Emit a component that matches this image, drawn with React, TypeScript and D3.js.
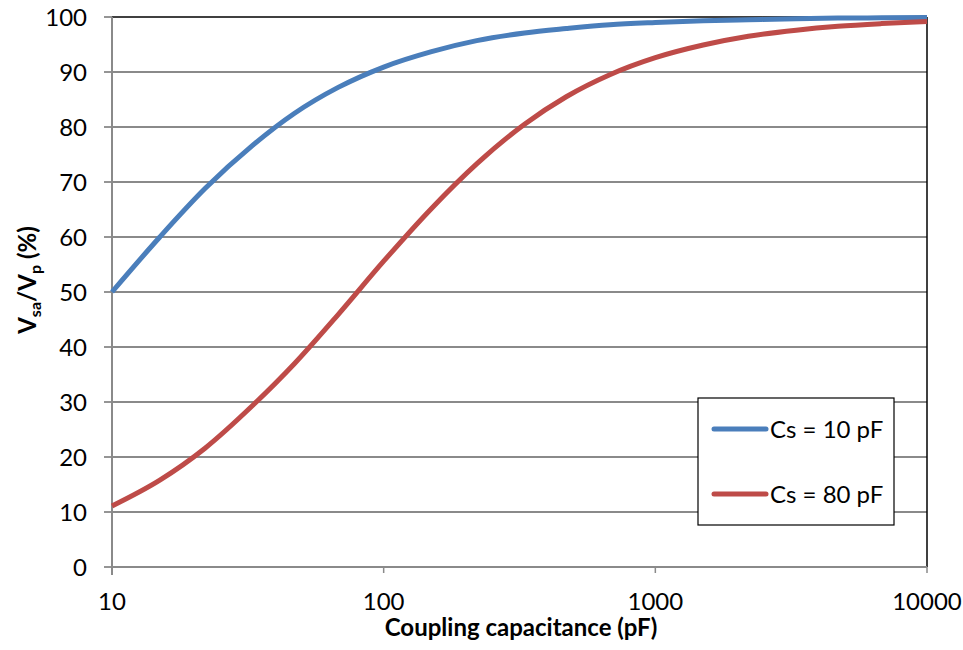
import React from "react";
import * as d3 from "d3";

const capacitance = [10, 15, 22, 33, 47, 68, 100, 150, 220, 330, 470, 680, 1000, 1500, 2200, 3300, 4700, 6800, 10000];
const cs10 = [50, 60, 68.8, 76.7, 82.5, 87.2, 90.9, 93.7, 95.7, 97.1, 97.9, 98.6, 99.0, 99.3, 99.5, 99.7, 99.8, 99.85, 99.9];
const cs80 = [11.1, 15.8, 21.6, 29.4, 37.0, 45.9, 55.6, 65.2, 73.3, 80.5, 85.5, 89.5, 92.6, 94.9, 96.5, 97.6, 98.3, 98.8, 99.2];
const xTicks = [10, 100, 1000, 10000];
const yTicks = [0, 10, 20, 30, 40, 50, 60, 70, 80, 90, 100];
const seriesNames = ["Cs = 10 pF", "Cs = 80 pF"];
const colors = ["#4a7ebb", "#be4b48"];

const W = 963, H = 650;
const L = 112, R = 927, T = 17, B = 567;
const FONT = "Lato, 'Open Sans', sans-serif";
const FS = 24;

export default function App() {
  const x = d3.scaleLog().domain([10, 10000]).range([L, R]);
  const y = d3.scaleLinear().domain([0, 100]).range([B, T]);
  const line = d3
    .line<[number, number]>()
    .x((d) => x(d[0]))
    .y((d) => y(d[1]))
    .curve(d3.curveMonotoneX);
  const series = [cs10, cs80];

  return (
    <svg width={W} height={H} style={{ position: "absolute", left: 0, top: 0, background: "#fff" }}>
      {yTicks.map((t) => (
        <g key={"y" + t}>
          {t > 0 && t < 100 && <line x1={L} x2={R} y1={y(t)} y2={y(t)} stroke="#8a8a8a" strokeWidth={1.8} />}
          <line x1={L - 8} x2={L} y1={y(t)} y2={y(t)} stroke="#8a8a8a" strokeWidth={1.8} />
          <text x={L - 25} y={y(t)} dy="0.36em" textAnchor="end" fontFamily={FONT} fontSize={FS} fill="#000">
            {t}
          </text>
        </g>
      ))}
      {/* top and right borders */}
      <line x1={L} x2={R} y1={T} y2={T} stroke="#000" strokeWidth={1.5} />
      <line x1={R} x2={R} y1={T} y2={B} stroke="#000" strokeWidth={1.5} />
      {/* axes */}
      <line x1={L} x2={L} y1={T} y2={B + 8} stroke="#8a8a8a" strokeWidth={2} />
      <line x1={L} x2={R} y1={B} y2={B} stroke="#8a8a8a" strokeWidth={2} />
      {xTicks.map((t) => (
        <g key={"x" + t}>
          <line x1={x(t)} x2={x(t)} y1={B} y2={B + 6} stroke="#8a8a8a" strokeWidth={1.5} />
          <text x={x(t)} y={610} textAnchor="middle" fontFamily={FONT} fontSize={FS} fill="#000">
            {t}
          </text>
        </g>
      ))}
      {series.map((s, i) => (
        <path
          key={"s" + i}
          d={line(capacitance.map((c, j) => [c, s[j]] as [number, number])) || ""}
          fill="none"
          stroke={colors[i]}
          strokeWidth={5}
          strokeLinejoin="round"
        />
      ))}
      {/* legend */}
      <rect x={698} y={398} width={196} height={127} fill="#fff" stroke="#000" strokeWidth={1.2} />
      {seriesNames.map((n, i) => (
        <g key={"l" + i}>
          <line x1={714} x2={766} y1={429 + i * 65} y2={429 + i * 65} stroke={colors[i]} strokeWidth={5} strokeLinecap="round" />
          <text x={770} y={429 + i * 65} dy="0.36em" fontFamily={FONT} fontSize={FS} fill="#000">
            {n}
          </text>
        </g>
      ))}
      <text x={521} y={636} textAnchor="middle" fontFamily={FONT} fontSize={FS} fontWeight="bold" fill="#000">
        Coupling capacitance (pF)
      </text>
      <text transform="translate(36,280) rotate(-90)" textAnchor="middle" fontFamily={FONT} fontSize={FS} fontWeight="bold" fill="#000">
        V<tspan fontSize={16} dy={5}>sa</tspan>
        <tspan dy={-5}>/V</tspan>
        <tspan fontSize={16} dy={5}>p</tspan>
        <tspan dy={-5}> (%)</tspan>
      </text>
    </svg>
  );
}
